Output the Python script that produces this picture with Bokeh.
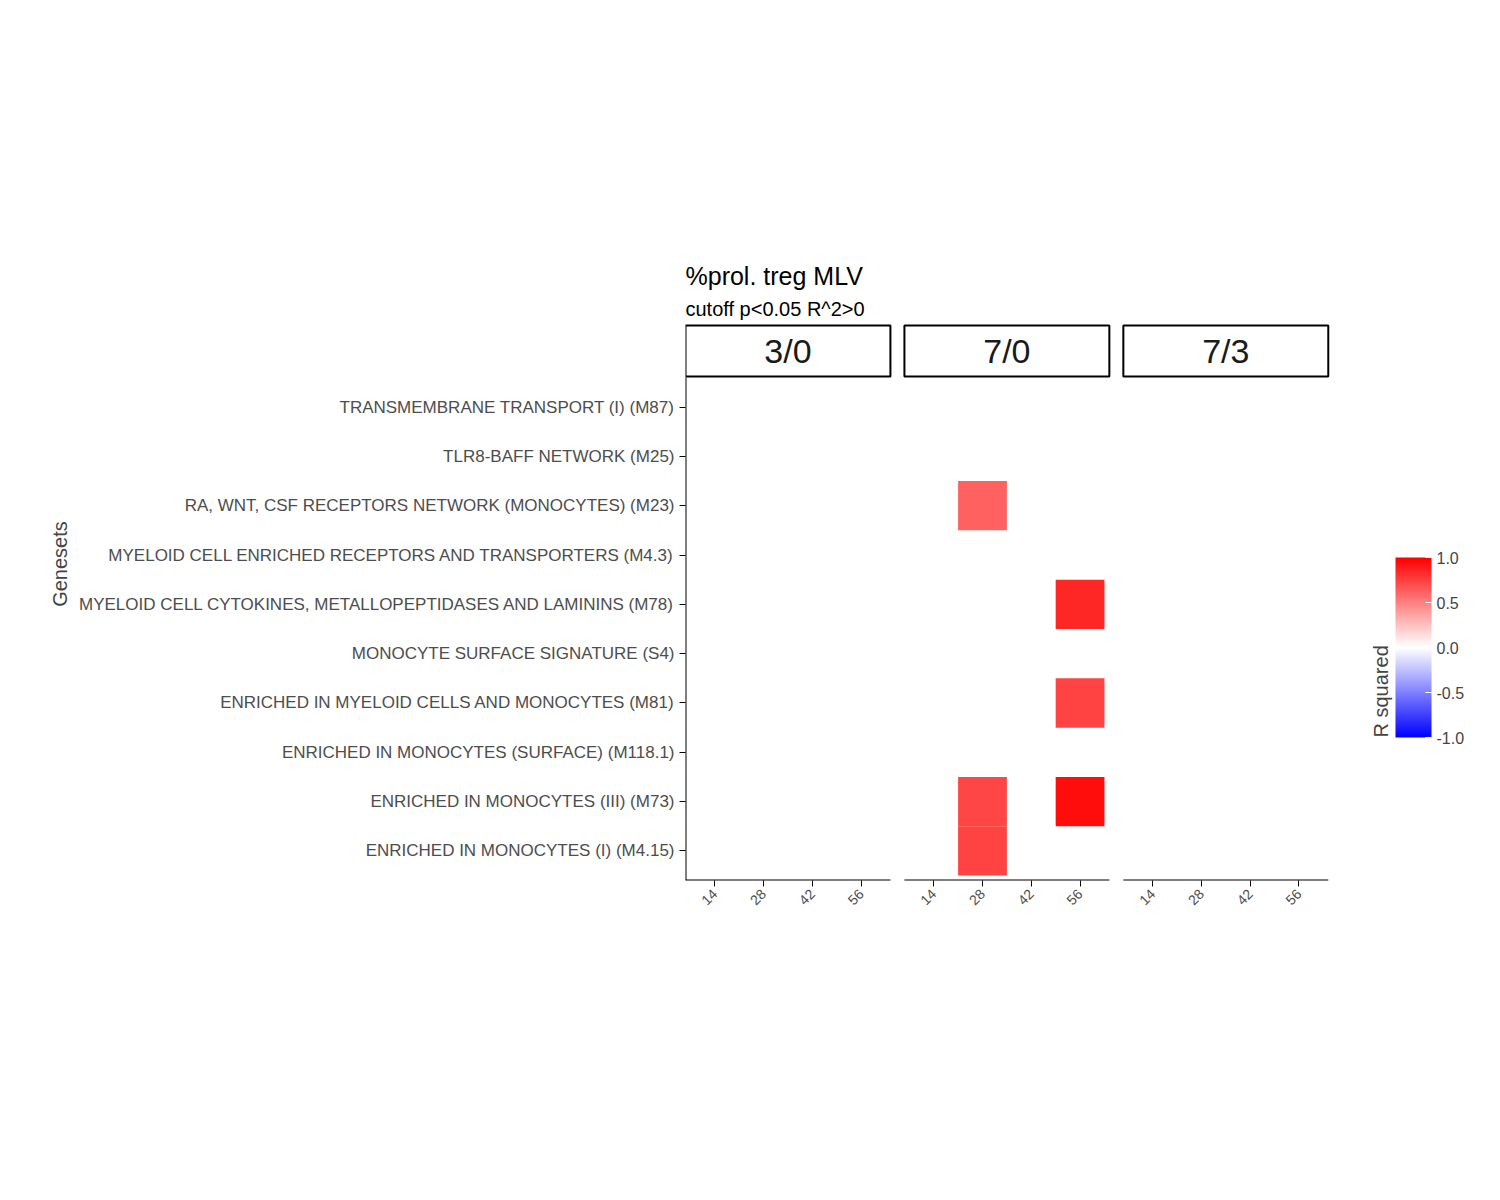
from bokeh.plotting import figure
from bokeh.models import (ColumnDataSource, FixedTicker, LinearAxis, ColorBar,
                          LinearColorMapper, PrintfTickFormatter)
from bokeh.transform import transform
from bokeh.core.properties import value
from bokeh.embed import file_html
from bokeh.resources import INLINE

genesets = ['ENRICHED IN MONOCYTES (I) (M4.15)',
            'ENRICHED IN MONOCYTES (III) (M73)',
            'ENRICHED IN MONOCYTES (SURFACE) (M118.1)',
            'ENRICHED IN MYELOID CELLS AND MONOCYTES (M81)',
            'MONOCYTE SURFACE SIGNATURE (S4)',
            'MYELOID CELL CYTOKINES, METALLOPEPTIDASES AND LAMININS (M78)',
            'MYELOID CELL ENRICHED RECEPTORS AND TRANSPORTERS (M4.3)',
            'RA, WNT, CSF RECEPTORS NETWORK (MONOCYTES) (M23)',
            'TLR8-BAFF NETWORK (M25)',
            'TRANSMEMBRANE TRANSPORT (I) (M87)']
panels = ['3/0', '7/0', '7/3']
days = ['14', '28', '42', '56']

cell_panel = ['7/0', '7/0', '7/0', '7/0', '7/0', '7/0']
cell_day = ['28', '28', '28', '56', '56', '56']
cell_set = ['RA, WNT, CSF RECEPTORS NETWORK (MONOCYTES) (M23)',
            'ENRICHED IN MONOCYTES (III) (M73)',
            'ENRICHED IN MONOCYTES (I) (M4.15)',
            'MYELOID CELL CYTOKINES, METALLOPEPTIDASES AND LAMININS (M78)',
            'ENRICHED IN MYELOID CELLS AND MONOCYTES (M81)',
            'ENRICHED IN MONOCYTES (III) (M73)']
cell_r2 = [0.62, 0.72, 0.74, 0.85, 0.74, 0.95]

PW = 4.2          # panel width in x units
GAP = 0.287
def panel_x(panel, day):
  return panels.index(panel) * (PW + GAP) + 0.6 + days.index(day)

def ramp(c1, c2, n):
  out = []
  for i in range(n):
    t = i / (n - 1)
    out.append('#%02x%02x%02x' % tuple(int(round(a + (b - a) * t)) for a, b in zip(c1, c2)))
  return out
palette = ramp((0, 0, 255), (255, 255, 255), 128) + ramp((255, 255, 255), (255, 0, 0), 128)
mapper = LinearColorMapper(palette=palette, low=-1, high=1)

FONT = 'Liberation Sans'

p = figure(width=1484, height=1180, frame_width=787, frame_height=633,
           min_border_left=685, min_border_top=247,
           x_range=(0, 16.13), y_range=(0.4, 13.236),
           output_backend="svg", toolbar_location=None, tools="")
p.xgrid.visible = False
p.ygrid.visible = False
p.outline_line_color = None
p.background_fill_color = 'white'

src = ColumnDataSource(dict(
  x=[panel_x(a, b) for a, b in zip(cell_panel, cell_day)],
  y=[genesets.index(s) + 1 for s in cell_set],
  r2=cell_r2))
p.rect(x='x', y='y', width=1, height=1, source=src,
       fill_color=transform('r2', mapper), line_color=None)

# axes
p.xaxis.visible = False
p.yaxis.visible = False
xt = [panel_x(pn, d) for pn in panels for d in days]
xax = LinearAxis(ticker=FixedTicker(ticks=xt),
                 major_label_overrides={x: d for x, d in zip(xt, days * 3)},
                 axis_line_color=None, major_tick_out=6, major_tick_in=0,
                 minor_tick_line_color=None, major_label_orientation=0.785,
                 major_label_text_font_size='14px', major_label_text_color='#4d4d4d',
                 major_label_text_font=FONT)
p.add_layout(xax, 'below')
yt = list(range(1, len(genesets) + 1))
yax = LinearAxis(ticker=FixedTicker(ticks=yt),
                 major_label_overrides={y: s for y, s in zip(yt, genesets)},
                 axis_line_color=None, major_tick_out=6, major_tick_in=0,
                 minor_tick_line_color=None,
                 major_label_text_font_size='17px', major_label_text_color='#4d4d4d',
                 major_label_text_font=FONT,
                 axis_label='Genesets', axis_label_text_font_size='20px',
                 axis_label_text_font_style='normal',
                 axis_label_text_font=FONT)
p.add_layout(yax, 'left')

lefts = [i * (PW + GAP) for i in range(len(panels))]
p.segment(x0=lefts, y0=[0.4] * 3, x1=[l + PW for l in lefts], y1=[0.4] * 3,
          line_color='black', line_width=2)
p.segment(x0=[0], y0=[0.4], x1=[0], y1=[10.6], line_color='black', line_width=2)

# facet strips
p.quad(left=lefts, right=[l + PW for l in lefts], bottom=[10.62] * 3, top=[11.655] * 3,
       fill_color='white', line_color='black', line_width=2)
p.text(x=[l + PW / 2 for l in lefts], y=[11.14] * 3, text=panels,
       text_align='center', text_baseline='middle', text_font_size='34px',
       text_font=value(FONT), text_color='#1a1a1a')

p.text(x=[0], y=[12.65], text=['%prol. treg MLV'], text_font_size='25px',
       text_baseline='alphabetic', text_font=value(FONT))
p.text(x=[0], y=[11.98], text=['cutoff p<0.05 R^2>0'], text_font_size='20px',
       text_baseline='alphabetic', text_font=value(FONT))

cb = ColorBar(color_mapper=mapper, ticker=FixedTicker(ticks=[-1, -0.5, 0, 0.5, 1]),
              formatter=PrintfTickFormatter(format='%.1f'),
              width=36, height=180, location=(678, 143),
              title='R squared', title_text_font_size='20px', title_text_font_style='normal',
              title_text_font=FONT,
              major_label_text_font_size='16px', major_label_text_font=FONT,
              major_tick_line_color='white', major_tick_in=6, major_tick_out=0,
              background_fill_color=None, padding=0, title_standoff=8)
p.add_layout(cb)

open("out.html", "w").write(file_html(p, INLINE))
